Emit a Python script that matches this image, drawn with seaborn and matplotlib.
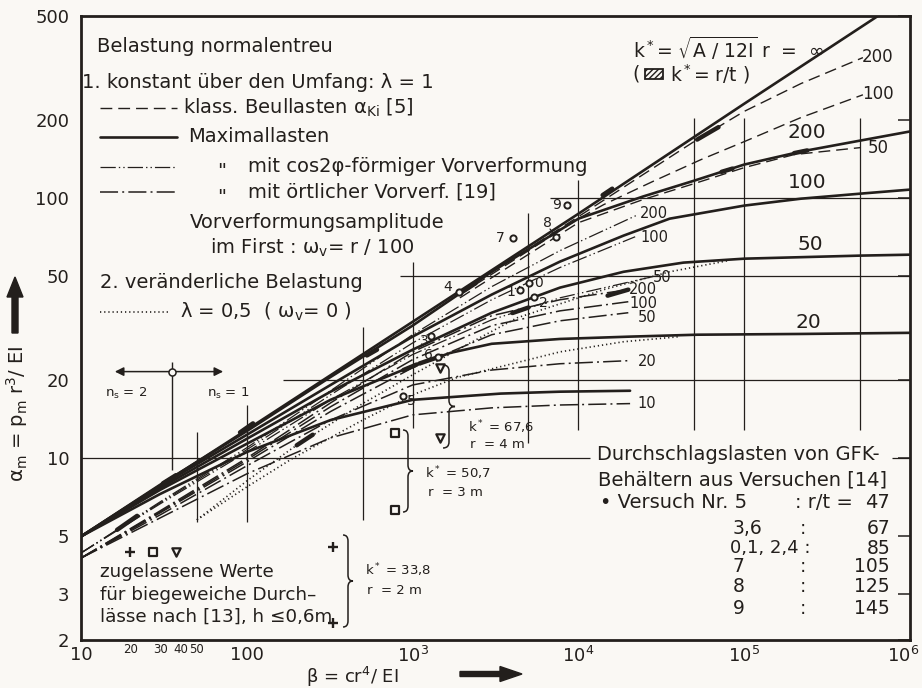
import matplotlib
matplotlib.use("Agg")
import pandas as pd
import matplotlib.pyplot as plt
import seaborn as sns
from matplotlib.lines import Line2D
from matplotlib.patches import Rectangle, PathPatch, FancyArrow
from matplotlib.path import Path
from matplotlib.transforms import IdentityTransform, ScaledTranslation
from matplotlib.ticker import FixedLocator, FixedFormatter, NullFormatter

# ---------------------------------------------------------------- data
# Maximallasten (solid), k* = inf, 200, 100, 50, 20, 10
beta_max_inf = [10, 100, 1e3, 1e4, 1e5, 6.4e5]
alpha_max_inf = [5.0, 12.85, 33.4, 86.9, 230, 500]
beta_max_200 = [10, 30, 100, 320, 1000, 3000, 1e4, 2.45e4, 5e4, 1e5, 2.2e5, 5e5, 1e6]
alpha_max_200 = [5.0, 7.9, 12.7, 20.5, 32.3, 52.0, 83.2, 101.2, 116.5, 134.3, 150.7, 166, 180]
beta_max_100 = [10, 30, 100, 320, 1000, 3000, 7740, 1.87e4, 3.55e4, 1e5, 2.2e5, 5e5, 1e6]
alpha_max_100 = [5.0, 7.82, 12.29, 19.1, 29.3, 42.5, 56.9, 71.6, 83.2, 93.4, 99.3, 103.8, 107.6]
beta_max_50 = [10, 30, 100, 320, 1000, 3000, 7740, 1.87e4, 4.3e4, 1e5, 5e5, 1e6]
alpha_max_50 = [5.0, 7.68, 11.86, 18.0, 26.1, 36.2, 45.2, 52.0, 56.4, 58.4, 60.0, 60.5]
beta_max_20 = [10, 30, 100, 320, 1000, 1700, 3000, 7740, 2.05e4, 5.2e4, 2.2e5, 1e6]
alpha_max_20 = [5.0, 7.55, 11.35, 16.75, 22.6, 25.4, 27.5, 28.7, 29.3, 29.8, 30.0, 30.3]
beta_max_10 = [10, 30, 100, 320, 1000, 3400, 7740, 2.05e4]
alpha_max_10 = [5.0, 7.28, 10.55, 14.0, 16.75, 17.7, 18.0, 18.15]

# klassische Beullasten (dashed), k* = 200, 100, 50
beta_kl_200 = [1930, 1e4, 2.45e4, 5.2e4, 1e5, 2.2e5, 5.2e5]
alpha_kl_200 = [43.2, 84.7, 122.8, 167.5, 215, 275, 346]
beta_kl_100 = [1930, 1e4, 1.42e4, 2.8e4, 5.5e4, 1e5, 2.2e5, 5.2e5]
alpha_kl_100 = [42.5, 83.2, 94.2, 115.5, 140.4, 164.5, 203.6, 249]
beta_kl_50 = [1930, 1e4, 2.45e4, 5e4, 1e5, 2e5, 5e5]
alpha_kl_50 = [41.3, 80.3, 98.5, 113.5, 130.7, 146.7, 156]

# cos2phi-Vorverformung (dash-dot-dot), k* = 200, 100, 50
beta_cos_200 = [10, 30, 100, 320, 1000, 3000, 7740, 2.29e4]
alpha_cos_200 = [4.32, 6.79, 10.96, 18.15, 29.8, 45.6, 62.7, 86.2]
beta_cos_100 = [10, 30, 100, 320, 1000, 3000, 7740, 2.2e4]
alpha_cos_100 = [4.32, 6.73, 10.77, 17.5, 27.7, 40.6, 54.0, 70.9]
beta_cos_50 = [10, 30, 100, 320, 1000, 3000, 7740, 2.8e4]
alpha_cos_50 = [4.32, 6.67, 10.55, 16.75, 25.0, 34.0, 41.3, 49.8]

# oertliche Vorverformung (dash-dot), k* = 200, 100, 50, 20, 10
beta_oe = [10, 30, 100, 320, 1000, 3000, 7740, 2.0e4]
beta_oe_low = [10, 30, 100, 320, 1000, 3000, 7740, 2.05e4]
alpha_oe_200 = [4.13, 6.27, 10.0, 16.3, 25.6, 35.25, 40.6, 44.4]
alpha_oe_100 = [4.13, 6.21, 9.85, 15.75, 23.9, 32.3, 36.8, 39.9]
alpha_oe_50 = [4.13, 6.16, 9.67, 15.1, 22.25, 29.8, 33.7, 36.2]
alpha_oe_20 = [4.13, 6.05, 9.34, 14.0, 19.1, 21.8, 23.05, 23.7]
alpha_oe_10 = [4.13, 5.89, 8.7, 11.96, 14.66, 15.6, 16.0, 16.2]

# veraenderliche Belastung lambda = 0.5 (dotted)
beta_lam_20 = [50, 100, 190, 500, 1000, 1850, 7740, 1.87e4, 4.1e4]
alpha_lam_20 = [5.79, 7.75, 10.0, 14.0, 17.5, 20.4, 25.6, 28.0, 29.3]
beta_lam_50 = [50, 100, 190, 500, 1000, 2130, 4265, 1.42e4, 3.55e4, 8e4]
alpha_lam_50 = [5.79, 8.17, 10.96, 16.2, 20.9, 27.3, 34.6, 44.4, 52.0, 57.4]

# hatched k* = r/t ranges on the curves
hatch_b0 = [91, 31.2, 16.5, 200, 530, 880, 1100, 5.2e4, 7.3e4, 2e5, 1.4e4, 2000, 4000, 1.5e4]
hatch_b1 = [109, 37.4, 21.8, 250, 610, 1060, 1500, 7e4, 8.5e4, 2.4e5, 1.6e4, 2400, 5000, 2e4]
hatch_a0 = [12.55, 8.0, 5.3, 11.2, 24.8, 21.8, 23.1, 167.5, 125.9, 148.6, 102.5, 43.6, 36.1, 42.1]
hatch_a1 = [13.6, 8.6, 6.0, 12.3, 26.1, 22.9, 24.7, 187, 129.6, 152.2, 108.5, 47.0, 37.9, 44.4]

# Versuche (GFK-Behaelter)
versuch_nr = ["0", "1", "2", "3", "4", "5", "6", "7", "8", "9"]
versuch_beta = [5040, 4450, 5400, 1290, 1900, 875, 1420, 4030, 7330, 8530]
versuch_alpha = [47.2, 44.4, 41.7, 29.5, 43.6, 17.35, 24.5, 70.3, 70.9, 94.2]

# zugelassene Werte (r = 2 m / 3 m / 4 m)
plus_beta, plus_alpha = [19.7, 331, 331], [4.36, 4.56, 2.32]
square_beta, square_alpha = [27.2, 783, 783], [4.36, 12.5, 6.32]
tri_beta, tri_alpha = [37.4, 1460, 1460], [4.36, 22.25, 11.96]

# n_s boundary
ns_beta, ns_alpha = 35.4, 21.5
ns_alpha_lo, ns_alpha_hi = 9.0, 23.4
ns_beta_left, ns_beta_right = 16.0, 72.0

# partial grid
vgrid_beta = [50, 100, 500, 1000, 5000, 1e4, 5e4, 1e5, 5e5]
vgrid_lo = [5.69, 5.69, 5.79, 13.1, 11.45, 12.85, 12.85, 12.85, 12.85]
vgrid_hi = [12.6, 16.0, 32.0, 56.9, 87.7, 117.5, 203.6, 203.6, 203.6]
hgrid_alpha = [100, 50, 20, 10, 10]
hgrid_lo = [6700, 840, 165, 10, 7.8e5]
hgrid_hi = [1e6, 1e6, 1e6, 1.18e4, 1e6]

# ---------------------------------------------------------------- style
sns.set_style("white")
plt.rcParams.update({
    "font.family": ["DejaVu Sans"],
    "mathtext.default": "regular",
    "lines.scale_dashes": False,
    "lines.dash_capstyle": "butt",
    "hatch.linewidth": 1.0,
})

INK = "#231f1c"
PAPER = "#faf8f4"
W, H = 922, 688

STYLES = {
    "max": dict(linewidth=1.9, linestyle="-"),
    "kl": dict(linewidth=1.0, linestyle=(0, (8.5, 4.3))),
    "cos": dict(linewidth=0.9, linestyle=(0, (11, 2.2, 1, 2.2, 1, 2.2))),
    "oe": dict(linewidth=1.1, linestyle=(0, (13, 3, 1.4, 3))),
    "lam": dict(linewidth=1.2, linestyle=(0, (0.9, 2.1))),
}

curves = [
    ("max", "inf", beta_max_inf, alpha_max_inf),
    ("max", "200", beta_max_200, alpha_max_200),
    ("max", "100", beta_max_100, alpha_max_100),
    ("max", "50", beta_max_50, alpha_max_50),
    ("max", "20", beta_max_20, alpha_max_20),
    ("max", "10", beta_max_10, alpha_max_10),
    ("kl", "200", beta_kl_200, alpha_kl_200),
    ("kl", "100", beta_kl_100, alpha_kl_100),
    ("kl", "50", beta_kl_50, alpha_kl_50),
    ("cos", "200", beta_cos_200, alpha_cos_200),
    ("cos", "100", beta_cos_100, alpha_cos_100),
    ("cos", "50", beta_cos_50, alpha_cos_50),
    ("oe", "200", beta_oe, alpha_oe_200),
    ("oe", "100", beta_oe, alpha_oe_100),
    ("oe", "50", beta_oe, alpha_oe_50),
    ("oe", "20", beta_oe_low, alpha_oe_20),
    ("oe", "10", beta_oe_low, alpha_oe_10),
    ("lam", "20", beta_lam_20, alpha_lam_20),
    ("lam", "50", beta_lam_50, alpha_lam_50),
]
rows = []
for fam, k, bs, als in curves:
    for b, a in zip(bs, als):
        rows.append((fam, f"{fam}-{k}", b, a))
df = pd.DataFrame(rows, columns=["family", "curve", "beta", "alpha"])

hrows = []
for i, (b0, b1, a0, a1) in enumerate(zip(hatch_b0, hatch_b1, hatch_a0, hatch_a1)):
    hrows += [(i, b0, a0), (i, b1, a1)]
hdf = pd.DataFrame(hrows, columns=["seg", "beta", "alpha"])

# ---------------------------------------------------------------- figure
fig = plt.figure(figsize=(W / 100, H / 100), dpi=100, facecolor=PAPER)
ax = fig.add_axes([81 / W, 1 - 640 / H, (910 - 81) / W, (640 - 16) / H])
ax.set_facecolor(PAPER)
ax.set_xscale("log")
ax.set_yscale("log")
ax.set_xlim(10, 1e6)
ax.set_ylim(2, 500)

ax.vlines(vgrid_beta, vgrid_lo, vgrid_hi, colors=INK, linewidth=0.9, zorder=1)
ax.hlines(hgrid_alpha, hgrid_lo, hgrid_hi, colors=INK, linewidth=0.9, zorder=1)

for fam in ["lam", "oe", "cos", "kl", "max"]:
    sub = df[df["family"] == fam]
    sns.lineplot(data=sub, x="beta", y="alpha", units="curve", estimator=None,
                 sort=False, color=INK, ax=ax, legend=False, zorder=2,
                 **STYLES[fam])

sns.lineplot(data=hdf, x="beta", y="alpha", units="seg", estimator=None,
             sort=False, color=INK, linewidth=3.2, ax=ax, legend=False, zorder=3)

# n_s boundary
ax.vlines(ns_beta, ns_alpha_lo, ns_alpha_hi, colors=INK, linewidth=1.0, zorder=1)
for tip in (ns_beta_left, ns_beta_right):
    ax.annotate("", xy=(tip, ns_alpha), xytext=(ns_beta, ns_alpha),
                arrowprops=dict(arrowstyle="-|>", color=INK, lw=1.1,
                                mutation_scale=13, shrinkA=0, shrinkB=0))
sns.scatterplot(x=[ns_beta], y=[ns_alpha], marker="o", s=26, color=PAPER,
                edgecolor=INK, linewidth=1.1, ax=ax, zorder=5, legend=False)

# measured points
sns.scatterplot(x=versuch_beta, y=versuch_alpha, marker="o", s=20, color=PAPER,
                edgecolor=INK, linewidth=1.4, ax=ax, zorder=5, legend=False)
label_offsets = [(9, 0), (-9, -2), (9, -6), (-7, -5), (-11, 5), (8, -5),
                 (-9, 2), (-13, 0), (-9, 14), (-10, 0)]
for nr, b, a, off in zip(versuch_nr, versuch_beta, versuch_alpha, label_offsets):
    ax.annotate(nr, (b, a), xytext=off, textcoords="offset pixels",
                ha="center", va="center", fontsize=10, color=INK, zorder=6)

sns.scatterplot(x=square_beta, y=square_alpha, marker="s", s=26, color=PAPER,
                edgecolor=INK, linewidth=1.6, ax=ax, zorder=5, legend=False)
sns.scatterplot(x=tri_beta, y=tri_alpha, marker="v", s=36, color=PAPER,
                edgecolor=INK, linewidth=1.6, ax=ax, zorder=5, legend=False)
sns.scatterplot(x=plus_beta, y=plus_alpha, marker="+", s=45, color=INK,
                linewidth=1.7, ax=ax, zorder=5, legend=False)

# ---------------------------------------------------------------- axes
for sp in ax.spines.values():
    sp.set_linewidth(2.0)
    sp.set_color(INK)

ax.set_xticks([10, 100, 1e3, 1e4, 1e5, 1e6])
ax.set_xticklabels(["10", "100", "$10^3$", "$10^4$", "$10^5$", "$10^6$"])
xminor = [20, 30, 40, 50, 60, 70, 80, 90] + \
    [m * 10 ** e for e in (2, 3, 4, 5) for m in range(2, 10)]
xminor_labels = ["20", "30", "40", "50"] + [""] * (len(xminor) - 4)
ax.xaxis.set_minor_locator(FixedLocator(xminor))
ax.xaxis.set_minor_formatter(FixedFormatter(xminor_labels))

ax.set_yticks([2, 3, 5, 10, 20, 50, 100, 200, 500])
ax.set_yticklabels(["2", "3", "5", "10", "20", "50", "100", "200", "500"])
ax.yaxis.set_minor_locator(FixedLocator([4, 6, 7, 8, 9, 30, 40, 60, 70, 80, 90, 300, 400]))
ax.yaxis.set_minor_formatter(NullFormatter())

ax.tick_params(axis="x", which="major", direction="in", length=8.5, width=1.1,
               labelsize=13, pad=4, colors=INK)
ax.tick_params(axis="x", which="minor", direction="in", length=4, width=1.0,
               labelsize=8.5, pad=2.5, colors=INK)
ax.tick_params(axis="y", which="major", direction="in", length=8.5, width=1.1,
               labelsize=13, pad=8.5, colors=INK, right=True)
ax.tick_params(axis="y", which="minor", direction="in", length=4, width=1.0,
               colors=INK)
for t, v in zip(ax.xaxis.get_minor_ticks(len(xminor)), xminor):
    if str(int(v)).startswith("5"):
        t.tick1line.set_markersize(6.5)
last = ax.xaxis.get_major_ticks()[-1].label1
last.set_transform(last.get_transform() + ScaledTranslation(-5 / 72, 0, fig.dpi_scale_trans))
ax.set_xlabel("")
ax.set_ylabel("")

# ---------------------------------------------------------------- annotation helpers
PX = IdentityTransform()


def put(x, y, s, size=14, ha="left", va="center", **kw):
    fig.text(x, H - y, s, fontsize=size, ha=ha, va=va, color=INK,
             transform=PX, **kw)


def key(x0, x1, y, fam):
    fig.add_artist(Line2D([x0, x1], [H - y, H - y], color=INK, transform=PX,
                          **STYLES[fam]))


def brace(x, y_top, y_bot, w=10, r=6):
    ym = (y_top + y_bot) / 2
    xm = x + w / 2
    pts = [(x, y_top), (xm, y_top), (xm, y_top + r), (xm, ym - r), (xm, ym),
           (x + w, ym), (xm, ym), (xm, ym + r), (xm, y_bot - r), (xm, y_bot),
           (x, y_bot)]
    codes = [Path.MOVETO, Path.CURVE3, Path.CURVE3, Path.LINETO, Path.CURVE3,
             Path.CURVE3, Path.CURVE3, Path.CURVE3, Path.LINETO, Path.CURVE3,
             Path.CURVE3]
    verts = [(px, H - py) for px, py in pts]
    fig.add_artist(PathPatch(Path(verts, codes), fill=False, lw=1.1, ec=INK,
                             transform=PX))


# legend block
put(97, 47, "Belastung normalentreu")
put(82, 82, "1. konstant über den Umfang: λ = 1")
key(100, 177, 108, "kl")
put(183, 108, r"klass. Beullasten $\alpha_{Ki}$ [5]")
key(100, 177, 137, "max")
put(188, 137, "Maximallasten")
key(100, 177, 167, "cos")
put(217, 172, '"')
put(248, 167, "mit cos2φ-förmiger Vorverformung")
key(100, 177, 192, "oe")
put(217, 197, '"')
put(248, 192, "mit örtlicher Vorverf. [19]")
put(190, 222, "Vorverformungsamplitude")
put(210, 248, r"im First : $\omega_v$= r / 100")
put(100, 282, "2. veränderliche Belastung")
key(100, 170, 312, "lam")
put(180, 312, r"λ = 0,5  ( $\omega_v$= 0 )")

# k* note
put(633, 48, r"k$^*$= $\sqrt{A\ /\ 12I}$ r  =  ∞", size=13.5)
put(632, 74, "(", size=13.5)
fig.add_artist(Rectangle((645, H - 79), 18, 10, fill=False, hatch="//////",
                         lw=1.3, ec=INK, transform=PX))
put(670, 74, r"k$^*$= r/t )", size=13.5)

# curve labels
for x, y, s in [(878, 57, "200"), (878, 94, "100"), (878, 148, "50")]:
    put(x, y, s, size=12, ha="center")
for x, y, s in [(807, 133, "200"), (807, 182, "100"), (810, 245, "50"), (808, 323, "20")]:
    put(x, y, s, size=14.5, ha="center")
for x, y, s in [(654, 213, "200"), (654, 237, "100"), (662, 277, "50"),
                (643, 289, "200"), (643, 303, "100"), (647, 317, "50"),
                (647, 362, "20"), (647, 404, "10")]:
    put(x, y, s, size=10.5, ha="center")

# leader for test 8
fig.add_artist(Line2D([550, 555], [H - 229, H - 235], color=INK, lw=0.9, transform=PX))

# n_s labels
put(105, 393, r"n$_s$ = 2", size=9.5)
put(207, 393, r"n$_s$ = 1", size=9.5)

# braces and notes
brace(443, 365, 448, w=12)
put(468, 427, r"k$^*$ = 67,6", size=9.5)
put(470, 444, "r  = 4 m", size=9.5)
brace(403, 430, 512, w=10)
put(425, 473, r"k$^*$ = 50,7", size=9.5)
put(428, 493, "r  = 3 m", size=9.5)
brace(343, 535, 627, w=10)
put(365, 570, r"k$^*$ = 33,8", size=9.5)
put(367, 590, "r  = 2 m", size=9.5)

put(100, 572, "zugelassene Werte", size=13.2)
put(100, 595, "für biegeweiche Durch–", size=13.2)
put(100, 617, "lässe nach [13], h ≤0,6m", size=13.2)

# test table
put(597, 455, "Durchschlagslasten von GFK-")
put(598, 480, "Behältern aus Versuchen [14]")
put(600, 503, "• Versuch Nr. 5")
put(795, 503, ": r/t =")
put(890, 503, "47", ha="right")
table_rows = [("3,6", 528, "67"), ("0,1, 2,4", 548, "85"), ("7", 567, "105"),
              ("8", 587, "125"), ("9", 608, "145")]
for nr, y, rt in table_rows:
    if len(nr) > 3:
        put(730, y, nr + " :", size=13)
    else:
        put(733, y, nr, size=13.5)
        put(800, y, ":", size=13.5)
    put(890, y, rt, ha="right", size=13.5)

# axis titles with arrows
put(17, 414, r"$\alpha_m$ = p$_m$ r$^3$/ EI", rotation=90, ha="center")
fig.add_artist(FancyArrow(15, H - 333, 0, 56, width=6, head_width=16,
                          head_length=20, length_includes_head=True,
                          color=INK, transform=PX))
put(352, 677, r"β = cr$^4$/ EI", size=13, ha="center")
fig.add_artist(FancyArrow(460, H - 674, 62, 0, width=5, head_width=15,
                          head_length=22, length_includes_head=True,
                          color=INK, transform=PX))

fig.savefig("out.png", dpi=100, facecolor=PAPER)
